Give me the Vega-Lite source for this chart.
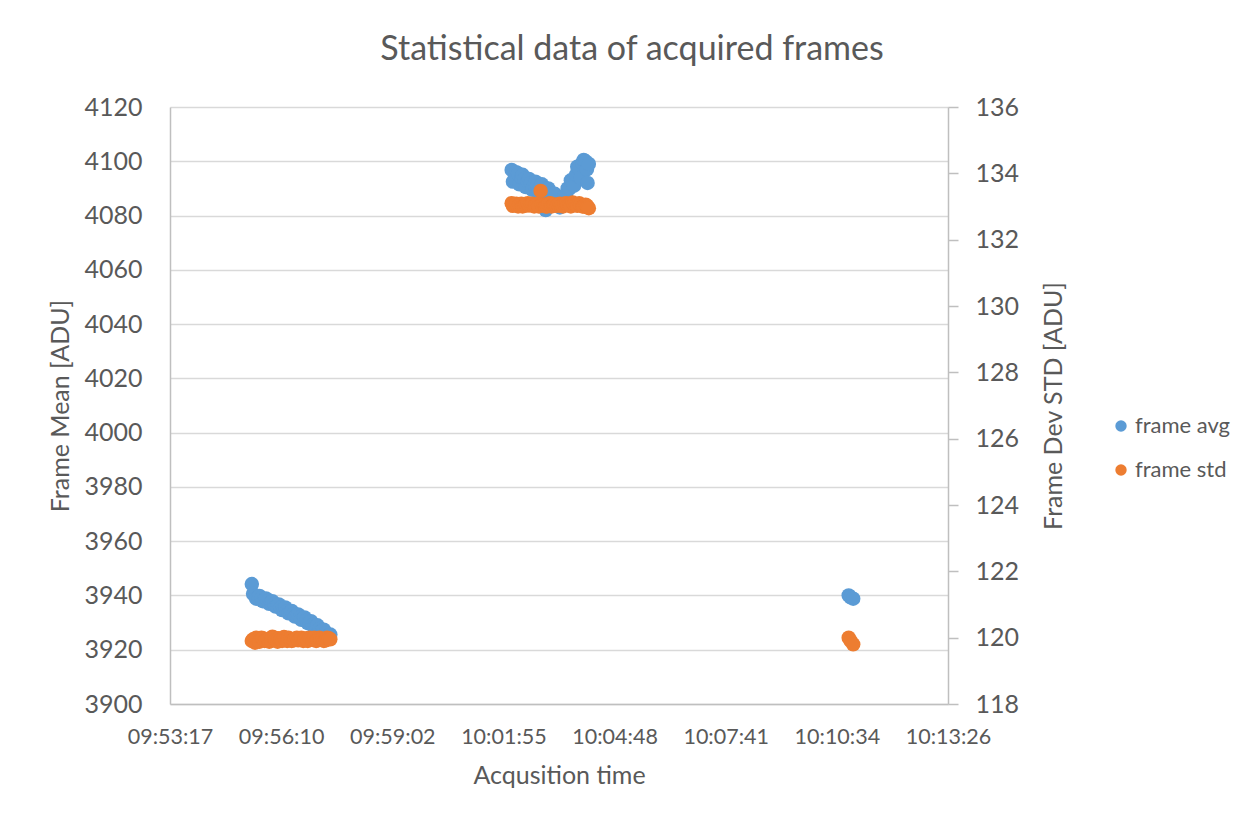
{
  "$schema": "https://vega.github.io/schema/vega-lite/v6.json",
  "autosize": {"type": "none"},
  "padding": {"left": 170, "top": 107, "right": 306, "bottom": 113},
  "width": 778,
  "height": 597,
  "background": "white",
  "title": {"text": "Statistical data of acquired frames", "font": "Lato", "fontSize": 34, "fontWeight": "normal", "color": "#595959", "anchor": "middle", "dx": 73, "offset": 28},
  "config": {"view": {"stroke": null}, "font": "Lato"},
  "data": {
    "format": {"parse": {"time": "utc:'%H:%M:%S'"}},
    "values": [
      {"time": "09:55:24", "avg": 3944.2, "std": 119.90},
      {"time": "09:55:26", "avg": 3940.6, "std": 119.95},
      {"time": "09:55:29", "avg": 3939.8, "std": 119.85},
      {"time": "09:55:31", "avg": 3938.8, "std": 120.00},
      {"time": "09:55:34", "avg": 3939.4, "std": 119.95},
      {"time": "09:55:36", "avg": 3939.8, "std": 119.88},
      {"time": "09:55:39", "avg": 3939.0, "std": 120.00},
      {"time": "09:55:41", "avg": 3937.9, "std": 119.98},
      {"time": "09:55:44", "avg": 3938.3, "std": 119.90},
      {"time": "09:55:46", "avg": 3938.9, "std": 119.92},
      {"time": "09:55:49", "avg": 3938.0, "std": 119.95},
      {"time": "09:55:51", "avg": 3936.9, "std": 119.88},
      {"time": "09:55:54", "avg": 3937.4, "std": 119.90},
      {"time": "09:55:56", "avg": 3937.9, "std": 120.03},
      {"time": "09:55:59", "avg": 3936.8, "std": 120.00},
      {"time": "09:56:01", "avg": 3935.9, "std": 119.93},
      {"time": "09:56:04", "avg": 3936.0, "std": 119.88},
      {"time": "09:56:06", "avg": 3936.7, "std": 119.98},
      {"time": "09:56:09", "avg": 3935.5, "std": 119.95},
      {"time": "09:56:11", "avg": 3934.6, "std": 119.90},
      {"time": "09:56:14", "avg": 3935.0, "std": 120.02},
      {"time": "09:56:16", "avg": 3935.6, "std": 119.95},
      {"time": "09:56:19", "avg": 3934.2, "std": 119.90},
      {"time": "09:56:21", "avg": 3933.4, "std": 120.00},
      {"time": "09:56:24", "avg": 3933.8, "std": 119.96},
      {"time": "09:56:26", "avg": 3934.3, "std": 119.90},
      {"time": "09:56:29", "avg": 3933.1, "std": 119.92},
      {"time": "09:56:31", "avg": 3932.2, "std": 119.97},
      {"time": "09:56:34", "avg": 3932.6, "std": 120.00},
      {"time": "09:56:36", "avg": 3933.0, "std": 119.92},
      {"time": "09:56:39", "avg": 3932.0, "std": 119.95},
      {"time": "09:56:41", "avg": 3931.0, "std": 120.00},
      {"time": "09:56:44", "avg": 3931.4, "std": 119.90},
      {"time": "09:56:46", "avg": 3931.9, "std": 119.94},
      {"time": "09:56:49", "avg": 3930.8, "std": 119.98},
      {"time": "09:56:51", "avg": 3929.8, "std": 119.90},
      {"time": "09:56:54", "avg": 3930.0, "std": 120.00},
      {"time": "09:56:56", "avg": 3930.5, "std": 119.97},
      {"time": "09:56:59", "avg": 3929.2, "std": 119.93},
      {"time": "09:57:01", "avg": 3928.3, "std": 120.00},
      {"time": "09:57:04", "avg": 3928.4, "std": 119.90},
      {"time": "09:57:06", "avg": 3929.0, "std": 119.92},
      {"time": "09:57:09", "avg": 3927.6, "std": 120.00},
      {"time": "09:57:11", "avg": 3926.7, "std": 119.96},
      {"time": "09:57:14", "avg": 3926.8, "std": 119.95},
      {"time": "09:57:16", "avg": 3927.4, "std": 119.90},
      {"time": "09:57:19", "avg": 3926.0, "std": 119.92},
      {"time": "09:57:21", "avg": 3925.1, "std": 120.00},
      {"time": "09:57:24", "avg": 3925.2, "std": 119.98},
      {"time": "09:57:26", "avg": 3925.6, "std": 119.95},
      {"time": "10:02:08", "avg": 4096.8, "std": 133.10},
      {"time": "10:02:10", "avg": 4092.5, "std": 133.02},
      {"time": "10:02:13", "avg": 4093.5, "std": 133.05},
      {"time": "10:02:15", "avg": 4096.0, "std": 133.08},
      {"time": "10:02:18", "avg": 4095.5, "std": 133.00},
      {"time": "10:02:20", "avg": 4091.5, "std": 133.05},
      {"time": "10:02:23", "avg": 4094.0, "std": 133.08},
      {"time": "10:02:25", "avg": 4095.0, "std": 133.00},
      {"time": "10:02:28", "avg": 4093.5, "std": 133.02},
      {"time": "10:02:30", "avg": 4090.5, "std": 133.06},
      {"time": "10:02:33", "avg": 4092.5, "std": 133.10},
      {"time": "10:02:35", "avg": 4093.5, "std": 133.03},
      {"time": "10:02:38", "avg": 4092.0, "std": 133.05},
      {"time": "10:02:40", "avg": 4089.5, "std": 133.08},
      {"time": "10:02:43", "avg": 4091.5, "std": 133.00},
      {"time": "10:02:45", "avg": 4092.5, "std": 133.04},
      {"time": "10:02:48", "avg": 4091.0, "std": 133.08},
      {"time": "10:02:50", "avg": 4088.5, "std": 133.00},
      {"time": "10:02:53", "avg": 4090.5, "std": 133.47},
      {"time": "10:02:55", "avg": 4091.5, "std": 133.06},
      {"time": "10:02:58", "avg": 4090.0, "std": 133.05},
      {"time": "10:03:00", "avg": 4087.0, "std": 133.02},
      {"time": "10:03:01", "avg": 4082.0, "std": 133.00},
      {"time": "10:03:03", "avg": 4089.0, "std": 133.00},
      {"time": "10:03:05", "avg": 4090.0, "std": 133.08},
      {"time": "10:03:08", "avg": 4088.0, "std": 133.10},
      {"time": "10:03:10", "avg": 4085.0, "std": 133.00},
      {"time": "10:03:13", "avg": 4086.5, "std": 133.05},
      {"time": "10:03:15", "avg": 4088.0, "std": 133.05},
      {"time": "10:03:18", "avg": 4084.0, "std": 133.02},
      {"time": "10:03:20", "avg": 4083.5, "std": 133.06},
      {"time": "10:03:23", "avg": 4083.0, "std": 133.08},
      {"time": "10:03:25", "avg": 4084.5, "std": 133.02},
      {"time": "10:03:28", "avg": 4085.5, "std": 133.00},
      {"time": "10:03:30", "avg": 4087.0, "std": 133.08},
      {"time": "10:03:33", "avg": 4088.0, "std": 133.10},
      {"time": "10:03:35", "avg": 4090.0, "std": 133.04},
      {"time": "10:03:38", "avg": 4090.0, "std": 133.05},
      {"time": "10:03:40", "avg": 4093.0, "std": 133.00},
      {"time": "10:03:43", "avg": 4092.5, "std": 133.12},
      {"time": "10:03:45", "avg": 4091.0, "std": 133.07},
      {"time": "10:03:48", "avg": 4095.0, "std": 133.05},
      {"time": "10:03:50", "avg": 4098.0, "std": 133.02},
      {"time": "10:03:53", "avg": 4097.5, "std": 133.10},
      {"time": "10:03:55", "avg": 4094.0, "std": 133.05},
      {"time": "10:03:58", "avg": 4099.5, "std": 133.00},
      {"time": "10:04:00", "avg": 4100.5, "std": 133.00},
      {"time": "10:04:03", "avg": 4100.0, "std": 133.05},
      {"time": "10:04:05", "avg": 4097.0, "std": 133.03},
      {"time": "10:04:06", "avg": 4092.0, "std": 132.98},
      {"time": "10:04:08", "avg": 4099.0, "std": 132.95},
      {"time": "10:10:52", "avg": 3940.0, "std": 120.00},
      {"time": "10:10:55", "avg": 3939.3, "std": 119.90},
      {"time": "10:10:59", "avg": 3938.8, "std": 119.80}
    ]
  },
  "encoding": {
    "x": {
      "field": "time", "type": "temporal",
      "scale": {"domain": [
        {"year": 1900, "month": 1, "date": 1, "hours": 9, "minutes": 53, "seconds": 16, "milliseconds": 800, "utc": true},
        {"year": 1900, "month": 1, "date": 1, "hours": 10, "minutes": 13, "seconds": 26, "milliseconds": 400, "utc": true}
      ], "nice": false},
      "axis": {
        "title": "Acqusition time",
        "values": [
          {"year": 1900, "month": 1, "date": 1, "hours": 9, "minutes": 53, "seconds": 16, "milliseconds": 800, "utc": true},
          {"year": 1900, "month": 1, "date": 1, "hours": 9, "minutes": 56, "seconds": 9, "milliseconds": 600, "utc": true},
          {"year": 1900, "month": 1, "date": 1, "hours": 9, "minutes": 59, "seconds": 2, "milliseconds": 400, "utc": true},
          {"year": 1900, "month": 1, "date": 1, "hours": 10, "minutes": 1, "seconds": 55, "milliseconds": 200, "utc": true},
          {"year": 1900, "month": 1, "date": 1, "hours": 10, "minutes": 4, "seconds": 48, "milliseconds": 0, "utc": true},
          {"year": 1900, "month": 1, "date": 1, "hours": 10, "minutes": 7, "seconds": 40, "milliseconds": 800, "utc": true},
          {"year": 1900, "month": 1, "date": 1, "hours": 10, "minutes": 10, "seconds": 33, "milliseconds": 600, "utc": true},
          {"year": 1900, "month": 1, "date": 1, "hours": 10, "minutes": 13, "seconds": 26, "milliseconds": 400, "utc": true}
        ],
        "labelExpr": "utcFormat(round(datum.value / 1000) * 1000, '%H:%M:%S')",
        "grid": false, "ticks": false,
        "domainColor": "#bfbfbf", "domainWidth": 1.5,
        "labelFont": "Lato", "labelFontSize": 21.5, "labelColor": "#595959", "labelPadding": 22,
        "labelOverlap": false, "labelFlush": false,
        "titleFont": "Lato", "titleFontSize": 25, "titleFontWeight": "normal", "titleColor": "#595959", "titlePadding": 16
      }
    }
  },
  "layer": [
    {
      "mark": {"type": "point", "shape": "circle", "filled": true, "opacity": 1, "size": 210},
      "encoding": {
        "y": {"field": "avg", "type": "quantitative",
          "scale": {"domain": [3900, 4120], "nice": false, "zero": false},
          "axis": {"title": "Frame Mean [ADU]", "orient": "left", "format": "d",
            "values": [3900, 3920, 3940, 3960, 3980, 4000, 4020, 4040, 4060, 4080, 4100, 4120],
            "grid": true, "gridColor": "#d9d9d9", "gridWidth": 1.5, "ticks": false,
            "domainColor": "#bfbfbf", "domainWidth": 1.5,
            "labelFont": "Lato", "labelFontSize": 25, "labelColor": "#595959", "labelPadding": 28,
            "titleFont": "Lato", "titleFontSize": 25, "titleFontWeight": "normal", "titleColor": "#595959",
            "titleX": -110, "titleY": 298.5, "titleAngle": 270, "titleAlign": "center", "titleBaseline": "middle"}},
        "color": {"datum": "frame avg", "type": "nominal",
          "scale": {"domain": ["frame avg", "frame std"], "range": ["#5B9BD5", "#ED7D31"]},
          "legend": {"title": null, "orient": "none", "legendX": 940, "legendY": 308,
            "symbolType": "circle", "symbolSize": 130, "symbolOpacity": 1,
            "labelFont": "Lato", "labelFontSize": 22, "labelColor": "#595959", "labelOffset": 3, "rowPadding": 22}}
      }
    },
    {
      "mark": {"type": "point", "shape": "circle", "filled": true, "opacity": 1, "size": 210},
      "encoding": {
        "y": {"field": "std", "type": "quantitative",
          "scale": {"domain": [118, 136], "nice": false, "zero": false},
          "axis": {"title": "Frame Dev STD [ADU]", "orient": "right",
            "values": [118, 120, 122, 124, 126, 128, 130, 132, 134, 136],
            "grid": false, "ticks": true, "tickSize": 10, "tickColor": "#bfbfbf", "tickWidth": 1.5,
            "domainColor": "#bfbfbf", "domainWidth": 1.5,
            "labelFont": "Lato", "labelFontSize": 25, "labelColor": "#595959", "labelPadding": 17,
            "titleFont": "Lato", "titleFontSize": 25, "titleFontWeight": "normal", "titleColor": "#595959",
            "titleX": 105, "titleY": 298.5, "titleAngle": 270, "titleAlign": "center", "titleBaseline": "middle"}},
        "color": {"datum": "frame std", "type": "nominal"}
      }
    }
  ],
  "resolve": {"scale": {"y": "independent"}}
}
